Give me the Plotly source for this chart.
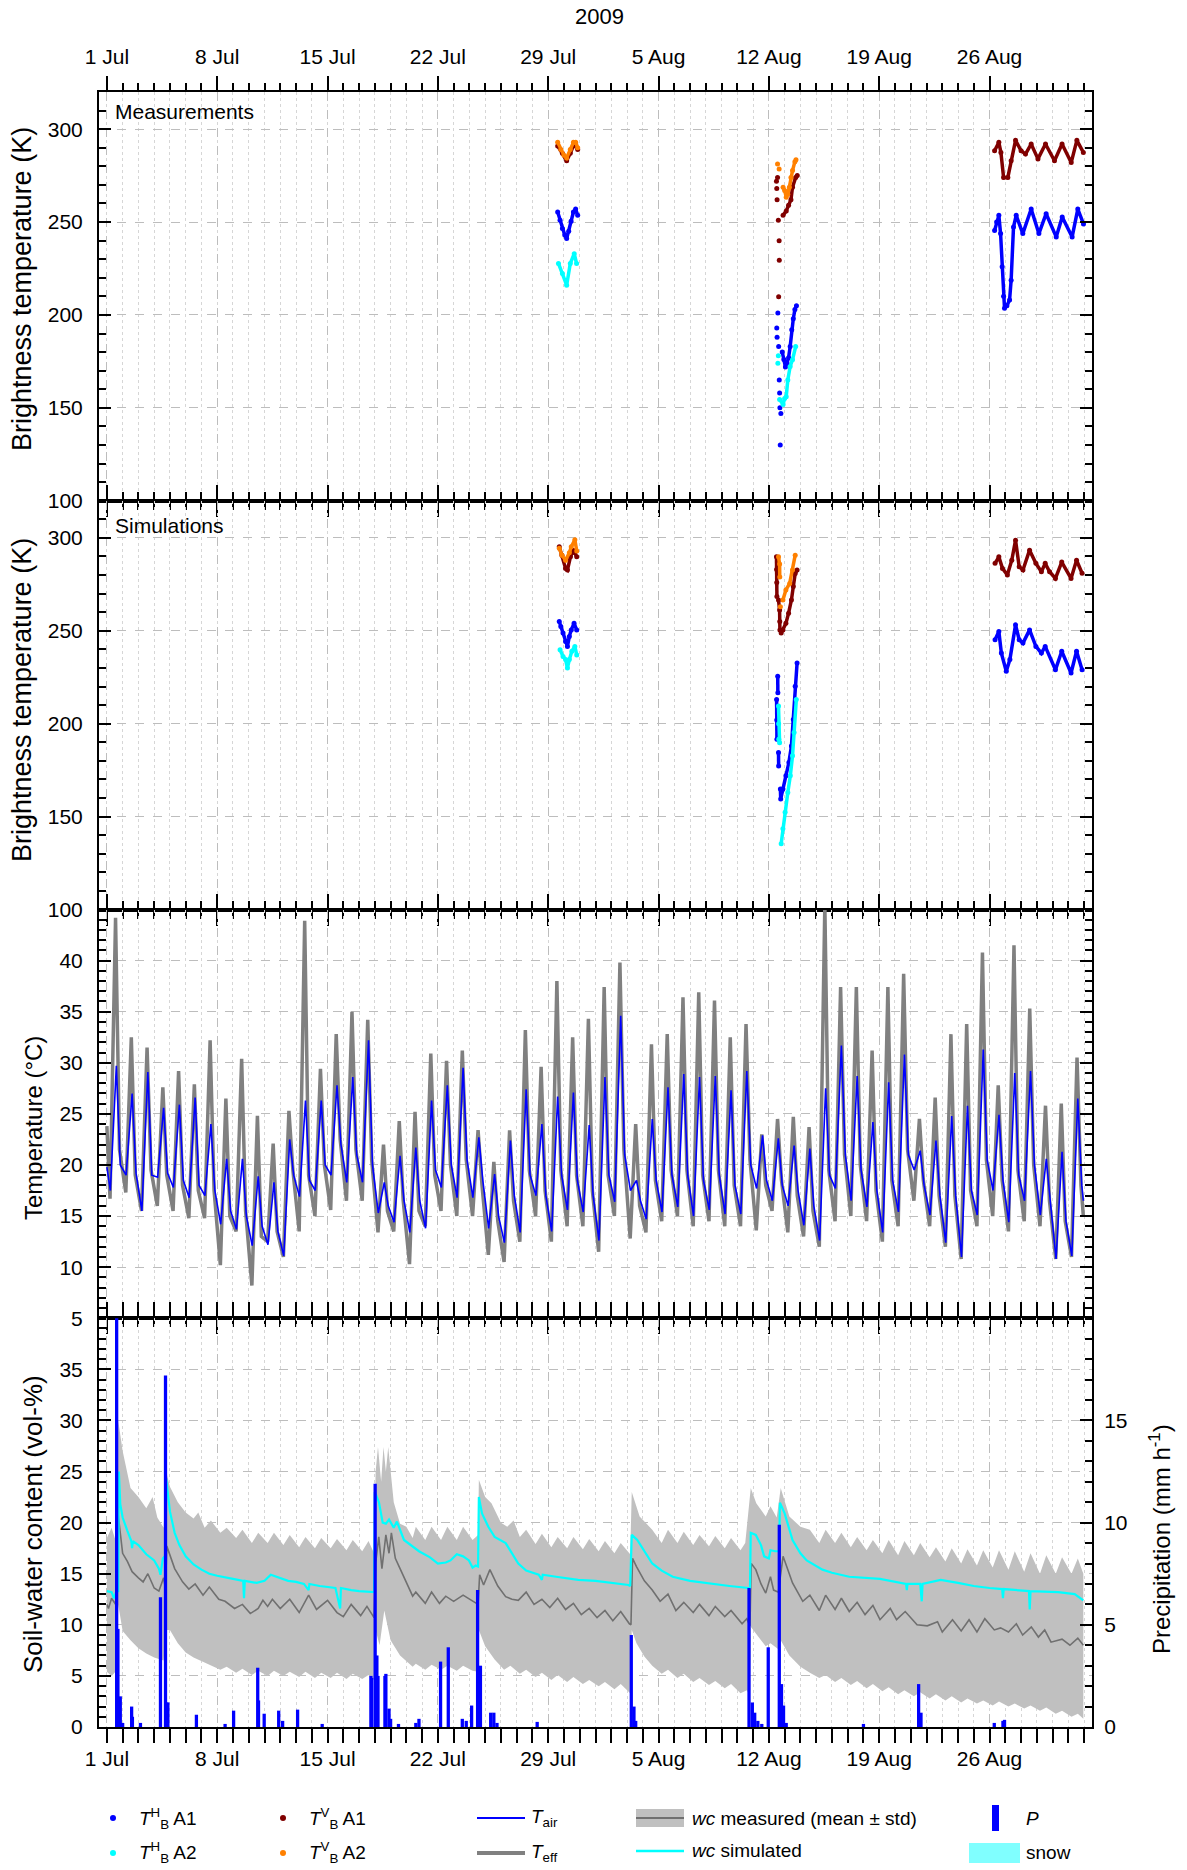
import pandas as pd
import plotly.graph_objects as go

FONT = "Liberation Sans, Arial, sans-serif"
BASE = pd.Timestamp("2009-07-01")

# ---------------- data (days since 1 Jul 2009 00:00) ----------------
# Brightness temperature, measurements
tbh_a1_meas_day = [28.6, 28.75, 28.9, 29.05, 29.17, 29.3, 29.45, 29.6, 29.74, 29.87, None,
                   42.5, None, 42.52, None, 42.57, None, 42.62, None, 42.66, None, 42.68, None, 42.7, None, 42.72, None, 42.76, None,
                   42.85, 42.95, 43.05, 43.15, 43.25, 43.35, 43.45, 43.55, 43.65, 43.75, None,
                   56.32, 56.45, 56.59, 56.7, 56.8, 56.89, 56.95, 57.1, 57.27, 57.37, 57.52, 57.69, 58.11, 58.64, 59.13, 59.59,
                   60.23, 60.61, 61.24, 61.6, 61.96]
tbh_a1_meas_val = [255.4, 251, 246.5, 243, 241.1, 245, 250.5, 255.4, 257, 253.6, None,
                   193, None, 188, None, 201, None, 183, None, 165, None, 158, None, 150, None, 130, None, 147, None,
                   180, 176, 172, 174, 177, 183, 192, 198, 203, 205, None,
                   245.5, 250, 253.6, 243.8, 226, 210, 203.6, 205, 208, 218.7, 247.3, 253.6, 243.8, 257, 243.8, 254.5,
                   242, 252.7, 242, 257, 249]

tbh_a2_meas_day = [28.65, 28.9, 29.17, 29.4, 29.65, 29.8, None,
                   42.57, None, 42.6, None, 42.68, 42.9, 43.0, 43.1, 43.2, 43.35, 43.5, 43.7]
tbh_a2_meas_val = [227.7, 222.3, 216, 227.7, 233, 227.7, None,
                   174, None, 178, None, 154.5, 151.8, 155, 156, 165, 172.3, 175.9, 183]

tbv_a1_meas_day = [28.6, 28.9, 29.17, 29.4, 29.6, 29.74, 29.87, None,
                   42.48, None, 42.5, None, 42.52, None, 42.55, None, 42.6, None, 42.65, None, 42.66, None, 42.62, None,
                   42.9, 43.1, 43.25, 43.4, 43.5, 43.7, 43.8, None,
                   56.32, 56.59, 56.72, 56.89, 57.16, 57.37, 57.65, 58.0, 58.28, 58.64, 59.07, 59.55, 60.12, 60.6, 61.18, 61.54, 61.95]
tbv_a1_meas_val = [291, 287, 283, 287, 291, 292, 289, None,
                   272, None, 268, None, 262, None, 274, None, 251, None, 240, None, 229.5, None, 209.8, None,
                   253.6, 256, 259, 262, 268.8, 274, 275, None,
                   288.4, 292.9, 287.5, 274, 274, 283, 294, 288.4, 286.6, 292, 284, 292, 283, 292, 282, 294, 287.5]

tbv_a2_meas_day = [28.6, 28.8, 29.0, 29.17, 29.4, 29.6, 29.74, 29.87, None,
                   42.55, None, 42.65, None,
                   42.9, 43.0, 43.1, 43.2, 43.3, 43.4, 43.5, 43.65, 43.72]
tbv_a2_meas_val = [292.9, 289, 286, 284.5, 289, 292.9, 293, 290, None,
                   281.3, None, 278.5, None,
                   268.8, 267, 263.4, 265, 268.8, 274, 277.7, 282.5, 283.5]

# Brightness temperature, simulations
tbh_a1_sim_day = [28.7, 28.8, 28.94, 29.1, 29.22, 29.34, 29.46, 29.64, 29.81, None,
                  42.56, 42.57, None, 42.49, 42.5, 42.51, None, 42.61, 42.62, None,
                  42.73, 42.75, 42.89, 43.08, 43.27, 43.43, 43.55, 43.67, 43.79, None,
                  56.35, 56.59, 56.75, 57.06, 57.29, 57.65, 57.88, 58.12, 58.54, 58.94, 59.29, 59.53, 60.18, 60.58, 61.17, 61.52, 61.87]
tbh_a1_sim_val = [255, 252.3, 248.8, 244.3, 241.6, 247, 250.5, 254, 250.5, None,
                  225.5, 216.6, None, 213, 202, 191.6, None, 184.5, 177.3, None,
                  164.8, 159.5, 164.8, 172, 179.1, 188, 202.3, 220.2, 232.7, None,
                  245.2, 249.6, 238, 228.2, 234.5, 253.2, 245.2, 243.4, 250.5, 241.6, 238, 241.6, 229, 239, 227.3, 239, 229]

tbh_a2_sim_day = [28.75, 28.94, 29.1, 29.22, 29.34, 29.5, 29.69, 29.81, None,
                  42.61, 42.62, 42.63, 42.68, None,
                  42.78, 42.89, 43.03, 43.2, 43.36, 43.5, 43.6, 43.74]
tbh_a2_sim_val = [239.8, 236.2, 234.5, 230, 234.5, 239, 241.6, 237, None,
                  209.5, 200, 191.6, 189.8, None,
                  135.4, 143.4, 152.3, 163, 172, 182.7, 195.2, 213]

tbv_a1_sim_day = [28.7, 28.87, 29.1, 29.22, 29.41, 29.57, 29.69, 29.81, None,
                  42.48, 42.49, 42.5, 42.51, None,
                  42.61, 42.68, 42.69, 42.7, 42.78, 42.89, 43.08, 43.25, 43.43, 43.55, 43.67, 43.79, None,
                  56.35, 56.59, 56.82, 57.13, 57.41, 57.65, 57.88, 58.12, 58.54, 58.94, 59.29, 59.53, 59.81, 60.18, 60.58, 61.17, 61.52, 61.87]
tbv_a1_sim_val = [295.2, 290.7, 283.6, 282.7, 289.8, 293.4, 292, 289.8, None,
                  289.8, 283, 276, 268.4, None,
                  266.6, 261.2, 255, 250.5, 248.8, 250.5, 254, 259.5, 266.6, 273.8, 280.9, 282.7, None,
                  286.3, 289.8, 283.6, 280, 288, 298.8, 284.5, 282.7, 293.4, 286.3, 281.8, 286.3, 281.8, 278.2, 287, 278.2, 288, 281]

tbv_a2_sim_day = [28.7, 28.87, 29.1, 29.34, 29.46, 29.69, 29.81, None,
                  42.61, 42.68, 42.69, None, 42.73, None,
                  42.89, 43.08, 43.32, 43.5, 43.67]
tbv_a2_sim_val = [294.5, 290.7, 288, 292, 295.2, 299, 293, None,
                  289.8, 286, 279, None, 263, None,
                  266.6, 272, 275.5, 282.7, 290.7]

# Temperatures: daily early-morning minimum, afternoon maximum and evening value, deg C
tair_first, tair_last = 19.8, 16.5
tair_min = [17.5, 19.0, 15.5, 18.8, 17.8, 16.8, 17.0, 14.2, 13.7, 12.1, 12.2, 11.1, 16.9, 17.5, 19.0, 18.3,
            18.3, 15.3, 14.4, 13.4, 13.8, 17.8, 16.8, 16.8, 13.8, 12.4, 13.4, 17.0, 13.5, 15.6, 15.4, 12.6,
            16.4, 17.5, 14.7, 15.4, 15.9, 15.0, 15.6, 15.2, 15.2, 17.7, 16.5, 16.0, 14.1, 12.6, 17.7, 16.5,
            15.9, 13.4, 15.4, 19.5, 15.1, 12.4, 11.0, 15.1, 17.5, 14.4, 16.5, 15.1, 10.8, 11.1]
tair_max = [29.7, 27.0, 29.1, 25.6, 25.9, 26.6, 24.0, 20.6, 20.6, 18.9, 18.3, 22.5, 26.3, 26.3, 27.8, 28.6,
            32.2, 18.3, 20.9, 21.7, 26.3, 27.8, 29.5, 22.7, 19.1, 22.4, 27.4, 24.0, 26.7, 27.1, 23.9, 28.6,
            34.6, 18.5, 24.5, 27.6, 28.9, 28.6, 28.7, 27.3, 29.2, 22.9, 22.6, 21.9, 21.6, 27.5, 31.7, 28.7,
            24.2, 28.1, 30.8, 21.4, 22.4, 24.8, 25.8, 31.3, 24.9, 29.0, 29.2, 20.6, 21.3, 26.5]
tair_eve = [20.0, 19.2, 19.0, 19.2, 18.5, 18.0, 17.5, 15.5, 15.0, 14.0,
            13.5, 19.0, 18.5, 20.0, 22.0, 21.0, 20.0, 16.0, 16.5, 16.5,
            19.5, 20.0, 20.5, 18.5, 15.0, 17.0, 19.0, 17.0, 19.0, 18.5,
            17.0, 19.0, 21.0, 16.5, 18.5, 19.0, 19.0, 18.5, 19.0, 18.0,
            20.0, 18.5, 18.0, 17.5, 16.0, 19.0, 21.0, 19.5, 17.5, 18.5,
            21.0, 18.0, 17.0, 17.0, 17.5, 20.5, 18.5, 19.0, 20.0, 16.5,
            14.5, 18.0]
teff_first, teff_last = 23.8, 15.0
teff_min = [16.7, 17.3, 15.5, 16.0, 15.5, 14.8, 14.8, 10.2, 13.5, 8.2, 12.5, 11.0, 13.5, 15.0, 15.6, 16.5,
            16.5, 13.4, 13.5, 10.3, 14.0, 15.5, 15.0, 15.0, 11.2, 10.5, 12.5, 15.0, 12.5, 14.0, 14.0, 11.5,
            15.0, 12.8, 13.4, 14.5, 15.0, 14.0, 14.5, 14.0, 14.0, 13.6, 15.5, 13.4, 13.0, 12.0, 14.5, 15.0,
            14.5, 12.5, 14.0, 16.5, 14.0, 12.0, 10.8, 14.0, 15.0, 13.5, 14.5, 14.0, 10.8, 11.0]
teff_max = [44.2, 32.5, 31.5, 27.6, 29.2, 27.9, 32.2, 26.5, 30.4, 24.8, 22.1, 25.3, 43.9, 29.4, 32.8, 35.0,
            34.2, 22.0, 24.3, 25.2, 30.9, 30.2, 31.2, 23.4, 20.3, 23.4, 33.2, 29.6, 38.0, 32.5, 34.3, 37.4,
            39.8, 24.0, 31.8, 32.8, 36.4, 36.9, 36.1, 32.5, 33.8, 23.0, 24.5, 24.7, 23.7, 45.5, 37.4, 37.4,
            31.2, 37.4, 38.7, 24.5, 26.6, 32.8, 33.8, 40.8, 27.8, 41.5, 35.3, 25.8, 26.0, 30.5]
teff_eve = [21.5, 19.0, 19.5, 19.0, 18.0, 17.5, 17.5, 15.0, 15.5, 13.0,
            13.5, 19.5, 19.0, 20.0, 22.5, 21.5, 20.5, 15.5, 16.5, 15.5,
            19.0, 20.0, 20.5, 18.0, 14.5, 16.5, 19.5, 17.5, 19.5, 19.0,
            17.5, 19.0, 21.5, 16.0, 18.5, 19.5, 19.5, 19.0, 19.5, 18.0,
            20.5, 18.0, 18.5, 17.0, 15.5, 19.5, 21.0, 20.0, 17.5, 18.5,
            21.5, 18.5, 17.0, 17.0, 17.5, 20.5, 18.5, 19.5, 20.0, 16.5,
            14.5, 18.0]

# Soil-water content (vol-%)
wc_mean_day = [0.0, 0.1, 0.3, 0.55, 0.7, 0.8, 1.0, 1.3, 1.6, 2.0, 2.3, 2.6, 3.0, 3.3, 3.6, 3.72, 3.8, 4.3, 4.8, 5.2,
               5.6, 6.1, 6.5, 7.1, 7.5, 8.1, 8.6, 9.1, 9.6, 9.9, 10.2, 10.5, 11.0, 11.6, 12.2, 12.8, 13.3, 14.0, 14.6,
               15.0, 15.5, 16.1, 16.5, 16.95, 17.05, 17.25, 17.45, 17.7, 17.9, 18.05, 18.3, 18.6, 18.85, 19.4, 19.6,
               20.2, 20.6, 21.1, 21.5, 22.0, 22.6, 23.0, 23.4, 23.55, 23.65, 23.9, 24.3, 24.8, 25.3, 25.7, 26.1, 26.6,
               27.1, 27.6, 28.1, 28.6, 29.1, 29.6, 30.1, 30.6, 31.1, 31.6, 32.1, 32.6, 33.15, 33.25, 33.35, 33.6,
               34.1, 34.6, 35.1, 35.6, 36.1, 36.6, 37.2, 37.6, 38.2, 38.6, 39.2, 39.6, 40.3, 40.6, 40.8, 40.88,
               41.17, 41.5, 41.8, 42.1, 42.3, 42.6, 42.9, 43.5, 44.15, 44.6, 45.2, 45.6, 46.2, 46.6, 47.1, 47.6,
               48.1, 48.6, 49.05, 49.7, 50.1, 50.65, 51.4, 52.05, 52.7, 53.0, 53.65, 54.2, 54.7, 55.2, 55.7, 56.3,
               56.7, 57.2, 57.7, 58.1, 58.65, 59.1, 59.5, 59.9, 60.6, 61.1, 61.6, 61.95]
wc_mean_val = [12.0, 11.6, 12.6, 12.0, 21.0, 19.5, 17.0, 16.2, 15.2, 14.6, 14.2, 15.0, 13.6, 13.3, 14.6, 13.5, 17.7,
               15.5, 14.2, 13.5, 14.0, 12.9, 13.7, 12.5, 12.3, 11.6, 12.0, 11.1, 11.6, 12.4, 11.8, 12.5, 11.6, 12.5,
               11.2, 12.9, 11.5, 12.4, 11.2, 10.8, 12.0, 10.9, 11.8, 10.7, 16.0, 18.6, 15.5, 18.8, 17.0, 19.0, 16.5,
               15.5, 14.7, 12.8, 13.2, 12.1, 13.2, 12.1, 12.8, 12.3, 12.9, 12.5, 12.1, 12.0, 14.9, 13.9, 15.4, 13.8,
               12.75, 12.5, 12.4, 13.2, 12.0, 12.5, 11.7, 12.6, 11.5, 12.1, 11.0, 11.6, 10.7, 11.4, 10.4, 11.3,
               10.1, 10.0, 16.5, 15.7, 14.3, 13.4, 12.3, 13.0, 11.4, 12.2, 11.2, 12.0, 10.9, 11.8, 10.8, 11.4,
               10.1, 10.6, 9.9, 16.0, 15.4, 14.0, 13.1, 14.7, 13.4, 13.2, 16.7, 14.1, 12.3, 12.9, 11.4, 12.9,
               11.5, 12.6, 11.3, 12.2, 11.0, 11.9, 10.5, 11.6, 10.5, 11.3, 10.0, 9.9, 10.3, 9.3, 10.5, 9.4, 10.5,
               9.3, 10.6, 9.5, 9.7, 9.3, 10.1, 9.0, 9.8, 8.8, 9.5, 8.3, 8.6, 8.0, 8.7, 8.0]

wc_sim_day = [0.0, 0.3, 0.45, 0.6, 0.72, 0.76, 0.85, 1.0, 1.3, 1.55, 1.6, 1.65, 2.0, 2.5, 3.0, 3.3, 3.4, 3.55,
              3.72, 3.76, 4.0, 4.3, 4.6, 5.0, 5.5, 6.0, 6.5, 7.0, 8.0, 8.65, 8.7, 8.75, 9.5, 10.0, 10.4, 11.0,
              11.5, 12.0, 12.5, 12.8, 12.85, 13.5, 14.5, 14.8, 14.85, 15.5, 16.0, 16.95, 17.0, 17.26, 17.5,
              17.7, 17.9, 18.2, 18.4, 18.85, 19.8, 20.5, 21.0, 21.5, 21.8, 22.2, 22.6, 22.97, 23.2, 23.4, 23.55,
              23.6, 23.8, 24.2, 24.6, 25.3, 25.7, 26.1, 26.6, 27.4, 27.6, 27.65, 28.5, 29.9, 31.0, 33.1, 33.2,
              33.3, 33.65, 34.1, 34.6, 35.2, 35.9, 37.0, 38.4, 39.5, 40.7, 40.8, 40.85, 41.17, 41.5, 41.7, 42.0,
              42.1, 42.4, 42.65, 42.7, 43.0, 43.5, 44.0, 44.4, 45.0, 45.4, 46.0, 47.1, 49.05, 50.7, 50.75, 50.8,
              51.6, 51.7, 51.75, 52.9, 54.0, 55.0, 56.0, 56.8, 56.85, 56.9, 58.5, 58.55, 58.6, 60.35, 61.4, 61.95]
wc_sim_val = [13.3, 13.2, 12.6, 13.3, 13.3, 25.0, 21.8, 20.5, 19.2, 18.2, 17.5, 18.2, 17.8, 16.9, 16.3, 15.5, 14.9,
              16.5, 16.8, 24.3, 21.1, 19.0, 17.8, 16.7, 15.9, 15.4, 15.0, 14.8, 14.5, 14.3, 12.6, 14.3, 14.1, 14.3,
              14.9, 14.6, 14.3, 14.2, 14.0, 13.4, 14.0, 13.8, 13.6, 11.6, 13.6, 13.4, 13.3, 13.2, 23.0, 22.0, 20.0,
              19.9, 20.3, 19.5, 20.1, 18.3, 17.2, 16.6, 16.0, 16.1, 16.3, 16.9, 16.7, 16.3, 15.6, 15.8, 15.7,
              22.5, 20.9, 19.6, 18.6, 18.0, 17.0, 16.0, 15.3, 14.9, 14.4, 14.9, 14.7, 14.4, 14.3, 13.9, 13.8,
              18.8, 18.3, 17.2, 16.0, 15.3, 14.7, 14.3, 14.0, 13.8, 13.6, 13.5, 19.0, 18.8, 17.8, 16.7, 16.5,
              17.3, 17.2, 17.2, 21.95, 20.9, 18.3, 17.0, 16.3, 15.8, 15.4, 15.1, 14.7, 14.5, 14.0, 13.4, 14.0,
              14.0, 12.3, 14.0, 14.4, 14.1, 13.8, 13.6, 13.5, 12.6, 13.5, 13.3, 11.5, 13.3, 13.2, 13.0, 12.4]

wc_up_day = [0.0, 0.3, 0.6, 0.72, 1.0, 1.5, 2.0, 2.5, 2.9, 3.2, 3.6, 3.76, 4.0, 4.5, 5.0, 5.5, 5.8, 6.2, 6.6, 7.2,
             7.6, 8.2, 8.6, 9.2, 9.6, 10.2, 10.6, 11.2, 11.6, 12.2, 12.6, 13.2, 13.6, 14.2, 14.6, 15.2, 15.6, 16.2,
             16.6, 16.95, 17.05, 17.2, 17.4, 17.55, 17.7, 17.85, 18.2, 18.6, 19.0, 19.4, 19.6, 20.2, 20.6, 21.2,
             21.6, 22.2, 22.6, 23.2, 23.55, 23.6, 24.0, 24.4, 25.0, 25.4, 25.8, 26.2, 26.6, 27.2, 27.6, 28.2, 28.6,
             29.2, 29.6, 30.2, 30.6, 31.2, 31.6, 32.2, 32.6, 33.2, 33.3, 33.8, 34.3, 34.6, 35.2, 35.6, 36.2, 36.6,
             37.2, 37.6, 38.2, 38.6, 39.2, 39.6, 40.2, 40.5, 40.85, 41.2, 41.8, 42.1, 42.5, 42.75, 43.3, 44.0,
             44.6, 45.2, 45.6, 46.2, 46.6, 47.2, 47.6, 48.2, 48.6, 49.2, 49.6, 50.2, 50.6, 51.2, 51.6, 52.2, 52.6,
             53.2, 53.6, 54.2, 54.6, 55.2, 55.6, 56.2, 56.6, 57.2, 57.6, 58.2, 58.6, 59.2, 59.6, 60.2, 60.6, 61.2,
             61.6, 61.95]
wc_up_val = [18.5, 19.5, 18.0, 30.0, 27.0, 23.4, 22.5, 21.4, 22.5, 20.5, 19.5, 25.0, 23.5, 22.0, 21.0, 20.4, 21.0,
             19.5, 20.2, 19.0, 19.5, 18.5, 19.3, 18.0, 19.0, 18.0, 19.0, 17.8, 18.8, 17.6, 18.6, 17.5, 18.5, 17.5,
             18.4, 17.3, 18.3, 17.2, 18.2, 17.0, 25.0, 27.4, 24.0, 27.4, 25.0, 27.4, 22.0, 19.9, 19.6, 18.5, 19.6,
             18.3, 19.6, 18.3, 19.6, 18.3, 19.6, 18.3, 18.8, 24.2, 22.5, 21.9, 20.0, 19.6, 20.2, 18.6, 19.3, 17.9,
             18.9, 17.6, 18.6, 17.5, 18.6, 17.4, 18.4, 17.2, 18.2, 17.0, 18.0, 16.9, 23.0, 20.6, 19.8, 19.3, 18.0,
             19.3, 18.0, 19.1, 17.8, 18.8, 17.7, 18.7, 17.5, 18.5, 17.3, 18.0, 23.4, 21.9, 20.6, 21.6, 20.5, 23.4,
             20.6, 19.6, 19.3, 18.0, 19.3, 18.0, 19.0, 17.6, 18.6, 17.3, 18.3, 17.0, 18.3, 16.8, 18.2, 16.8, 18.0,
             16.6, 17.6, 16.2, 17.5, 16.0, 17.4, 15.8, 17.3, 15.6, 17.3, 15.4, 17.2, 15.2, 17.0, 15.0, 16.8, 15.0,
             16.6, 15.0, 16.5, 15.0]

wc_lo_day = [0.0, 0.3, 0.6, 0.72, 1.0, 1.5, 2.0, 2.5, 3.0, 3.6, 3.76, 4.0, 4.5, 5.0, 5.5, 6.0, 6.6, 7.2, 7.6, 8.2,
             8.6, 9.2, 9.6, 10.2, 10.6, 11.2, 11.6, 12.2, 12.6, 13.2, 13.6, 14.2, 14.6, 15.2, 15.6, 16.2, 16.6,
             16.95, 17.05, 17.3, 17.6, 18.0, 18.6, 19.4, 19.6, 20.2, 20.6, 21.2, 21.6, 22.2, 22.6, 23.2, 23.55,
             23.6, 24.0, 24.6, 25.2, 25.6, 26.2, 26.6, 27.2, 27.6, 28.2, 28.6, 29.2, 29.6, 30.2, 30.6, 31.2, 31.6,
             32.2, 32.6, 33.2, 33.3, 33.6, 34.1, 34.6, 35.2, 35.6, 36.2, 36.6, 37.2, 37.6, 38.2, 38.6, 39.2, 39.6,
             40.2, 40.6, 40.8, 40.85, 41.5, 41.8, 42.1, 42.6, 42.75, 43.3, 44.0, 44.6, 45.2, 45.6, 46.2, 46.6,
             47.2, 47.6, 48.2, 48.6, 49.2, 49.6, 50.2, 50.6, 51.2, 51.6, 52.2, 52.6, 53.2, 53.6, 54.2, 54.6, 55.2,
             55.6, 56.2, 56.6, 57.2, 57.6, 58.2, 58.6, 59.2, 59.6, 60.2, 60.6, 61.2, 61.6, 61.95]
wc_lo_val = [5.4, 5.0, 5.5, 12.0, 9.4, 8.5, 7.7, 7.2, 6.8, 6.5, 9.5, 9.5, 8.2, 7.3, 6.8, 6.4, 6.0, 5.6, 5.9, 5.3,
             5.7, 5.1, 5.5, 5.0, 5.5, 5.0, 5.4, 4.9, 5.4, 4.8, 5.3, 4.8, 5.3, 4.7, 5.2, 4.7, 5.1, 4.6, 9.5, 8.0,
             11.4, 8.5, 7.0, 5.9, 6.2, 5.6, 6.1, 5.6, 6.0, 5.5, 6.0, 5.5, 5.4, 9.5, 7.9, 6.6, 5.6, 6.0, 5.2, 5.6,
             4.9, 5.3, 4.6, 5.1, 4.4, 4.9, 4.2, 4.6, 4.0, 4.4, 3.7, 4.2, 3.3, 9.5, 8.2, 6.9, 6.0, 5.2, 5.6, 4.8,
             5.2, 4.4, 4.8, 4.1, 4.5, 3.8, 4.2, 3.3, 3.6, 3.0, 9.8, 8.5, 7.9, 8.2, 7.6, 8.5, 7.0, 5.9, 5.3, 4.8,
             5.1, 4.4, 4.8, 4.1, 4.5, 3.8, 4.2, 3.5, 3.9, 3.2, 3.6, 3.0, 3.4, 2.8, 3.2, 2.6, 3.0, 2.4, 2.8, 2.3,
             2.6, 2.1, 2.5, 2.0, 2.3, 1.8, 2.1, 1.6, 1.9, 1.3, 1.6, 1.0, 1.3, 0.8]

# Precipitation (mm/h)
precip_day = [0.62, 0.7, 0.85, 1.0, 1.57, 1.62, 2.13, 3.4, 3.72, 3.8, 3.87, 5.68, 7.5, 8.04, 9.57, 9.62, 9.98,
              10.9, 11.15, 12.1, 13.66, 16.75, 16.8, 17.02, 17.13, 17.2, 17.64, 17.7, 17.9, 18.0, 18.5, 19.6,
              19.8, 21.17, 21.66, 22.55, 22.8, 23.14, 23.52, 23.7, 24.35, 24.55, 24.75, 27.3, 33.27, 33.44,
              33.55, 40.74, 40.95, 41.1, 41.3, 41.55, 41.96, 42.66, 42.8, 42.93, 43.1, 48.0, 51.5, 51.65,
              56.3, 56.85, 56.95]
precip_val = [24.0, 4.8, 1.5, 0.2, 1.0, 0.5, 0.2, 6.35, 17.2, 1.2, 1.2, 0.6, 0.15, 0.8, 2.9, 1.3, 0.65,
              0.8, 0.3, 0.85, 0.15, 2.5, 2.4, 11.9, 3.5, 2.5, 2.5, 2.6, 0.9, 0.4, 0.15, 0.2,
              0.4, 3.2, 3.9, 0.4, 0.3, 1.05, 6.7, 3.0, 0.7, 0.7, 0.2, 0.25, 4.5, 1.0,
              0.3, 6.8, 1.2, 0.7, 0.3, 0.15, 3.9, 9.9, 2.1, 1.05, 0.2, 0.15, 2.1, 0.7,
              0.2, 0.3, 0.35]

week_labels = ["1 Jul", "8 Jul", "15 Jul", "22 Jul", "29 Jul", "5 Aug", "12 Aug", "19 Aug", "26 Aug"]

# ---------------- helpers ----------------
def dates(days):
    return [None if d is None else BASE + pd.Timedelta(days=d) for d in days]


def daily_series(first, last, mins, maxs, eves, t_min, t_max, t_eve):
    xs, ys = [0.0], [first]
    for i, (lo, hi, ev) in enumerate(zip(mins, maxs, eves)):
        xs += [i + t_min, i + t_max, i + t_eve]
        ys += [lo, hi, ev]
    xs.append(61.95)
    ys.append(last)
    return dates(xs), ys


W, H = 1187, 1870
L, R, T, B = 99, 95, 92, 143
PW, PH = W - L - R, H - T - B


def px(x):
    return (x - L) / PW


def py(y):
    return (H - B - y) / PH


BLUE, CYAN, DRED, ORANGE = "#0000ff", "#00ffff", "#800000", "#ff8000"

fig = go.Figure()

# ---------------- brightness temperature panels ----------------
tb_sets = [
    ("x", "y", [(tbh_a1_meas_day, tbh_a1_meas_val, BLUE), (tbh_a2_meas_day, tbh_a2_meas_val, CYAN),
                (tbv_a1_meas_day, tbv_a1_meas_val, DRED), (tbv_a2_meas_day, tbv_a2_meas_val, ORANGE)]),
    ("x2", "y2", [(tbh_a1_sim_day, tbh_a1_sim_val, BLUE), (tbh_a2_sim_day, tbh_a2_sim_val, CYAN),
                  (tbv_a1_sim_day, tbv_a1_sim_val, DRED), (tbv_a2_sim_day, tbv_a2_sim_val, ORANGE)]),
]
for xa, ya, series in tb_sets:
    for d, v, c in series:
        fig.add_trace(go.Scatter(x=dates(d), y=v, mode="lines+markers", xaxis=xa, yaxis=ya,
                                 line=dict(color=c, width=3.5), marker=dict(color=c, size=5),
                                 connectgaps=False, showlegend=False))

# ---------------- temperature panel ----------------
tx, ty = daily_series(teff_first, teff_last, teff_min, teff_max, teff_eve, 0.2, 0.55, 0.8)
fig.add_trace(go.Scatter(x=tx, y=ty, mode="lines", xaxis="x3", yaxis="y3",
                         line=dict(color="#808080", width=3.5), showlegend=False))
ax, ay = daily_series(tair_first, tair_last, tair_min, tair_max, tair_eve, 0.22, 0.6, 0.85)
fig.add_trace(go.Scatter(x=ax, y=ay, mode="lines", xaxis="x3", yaxis="y3",
                         line=dict(color=BLUE, width=1.6), showlegend=False))

# ---------------- soil water panel ----------------
band_x = dates(wc_up_day) + dates(wc_lo_day[::-1])
band_y = wc_up_val + wc_lo_val[::-1]
fig.add_trace(go.Scatter(x=band_x, y=band_y, fill="toself", fillcolor="#c0c0c0", mode="lines",
                         line=dict(width=0, color="#c0c0c0"), xaxis="x4", yaxis="y4", showlegend=False))
fig.add_trace(go.Scatter(x=dates(wc_mean_day), y=wc_mean_val, mode="lines", xaxis="x4", yaxis="y4",
                         line=dict(color="#707070", width=1.6), showlegend=False))
fig.add_trace(go.Scatter(x=dates(wc_sim_day), y=wc_sim_val, mode="lines", xaxis="x4", yaxis="y4",
                         line=dict(color=CYAN, width=2.2), showlegend=False))
fig.add_trace(go.Bar(x=dates(precip_day), y=precip_val, width=5 * 3600 * 1000, xaxis="x4", yaxis="y5",
                     marker=dict(color=BLUE, line=dict(width=0)), showlegend=False))

# ---------------- axes ----------------
tick_font = dict(family=FONT, size=21, color="black")
xrange = ["2009-06-30 12:00", "2009-09-01 12:00"]
xcommon = dict(type="date", range=xrange, tickmode="array",
               tickvals=dates([7 * i for i in range(9)]), ticktext=week_labels,
               ticks="outside", ticklen=14, tickwidth=2, tickcolor="black",
               showline=True, linewidth=2, linecolor="black", mirror="allticks",
               showgrid=True, gridcolor="#bdbdbd", griddash="dash", gridwidth=1.3,
               minor=dict(tickmode="linear", tick0="2009-07-01", dtick=86400000, ticks="outside",
                          ticklen=7, tickwidth=1.5, tickcolor="black", showgrid=True,
                          gridcolor="#d6d6d6", griddash="dot", gridwidth=1),
               tickfont=tick_font, zeroline=False)
ycommon = dict(ticks="inside", ticklen=12, tickwidth=2, tickcolor="black",
               showline=True, linewidth=2, linecolor="black",
               showgrid=True, gridcolor="#bdbdbd", griddash="dash", gridwidth=1.3,
               tickfont=tick_font, zeroline=False, ticklabelstandoff=10)
yminor_tb = dict(tickmode="linear", tick0=100, dtick=10, ticks="inside", ticklen=7,
                 tickwidth=1.5, tickcolor="black", showgrid=False)

fig.update_layout(
    xaxis=dict(xcommon, anchor="y", side="top", showticklabels=True, ticklabelstandoff=4),
    xaxis2=dict(xcommon, anchor="y2", matches="x", showticklabels=False),
    xaxis3=dict(xcommon, anchor="y3", matches="x", showticklabels=False),
    xaxis4=dict(xcommon, anchor="y4", matches="x", showticklabels=True, ticklabelstandoff=-2),
    yaxis=dict(ycommon, domain=[0.75, 1.0], range=[100, 320], tickmode="array",
               tickvals=[100, 150, 200, 250, 300], anchor="x", mirror="allticks", minor=yminor_tb),
    yaxis2=dict(ycommon, domain=[0.5, 0.75], range=[100, 320], tickmode="array",
                tickvals=[100, 150, 200, 250, 300], anchor="x2", mirror="allticks", minor=yminor_tb),
    yaxis3=dict(ycommon, domain=[0.25, 0.5], range=[5, 45], tickmode="array",
                tickvals=[5, 10, 15, 20, 25, 30, 35, 40], anchor="x3", mirror="allticks",
                minor=dict(tickmode="linear", tick0=5, dtick=1, ticks="inside", ticklen=7,
                           tickwidth=1.5, tickcolor="black", showgrid=False)),
    yaxis4=dict(ycommon, domain=[0.0, 0.25], range=[0, 40], tickmode="array",
                tickvals=[0, 5, 10, 15, 20, 25, 30, 35], anchor="x4", mirror=False,
                minor=dict(tickmode="linear", tick0=0, dtick=1, ticks="inside", ticklen=7,
                           tickwidth=1.5, tickcolor="black", showgrid=False)),
    yaxis5=dict(overlaying="y4", side="right", anchor="x4", range=[0, 20], tickmode="array",
                tickvals=[0, 5, 10, 15], ticks="inside", ticklen=12, tickwidth=2, tickcolor="black",
                showline=True, linewidth=2, linecolor="black", showgrid=False, zeroline=False,
                tickfont=tick_font, ticklabelstandoff=6,
                minor=dict(tickmode="linear", tick0=0, dtick=1, ticks="inside", ticklen=7,
                           tickwidth=1.5, tickcolor="black", showgrid=False)),
    width=W, height=H, margin=dict(l=L, r=R, t=T, b=B, pad=0),
    paper_bgcolor="white", plot_bgcolor="white", showlegend=False, barmode="overlay",
    font=dict(family=FONT, color="black"),
)

# ---------------- text ----------------
ann = []


def text(x, y, s, size=21, angle=0, xanchor="center", yanchor="middle"):
    ann.append(dict(x=px(x), y=py(y), xref="paper", yref="paper", text=s, showarrow=False,
                    textangle=angle, xanchor=xanchor, yanchor=yanchor,
                    font=dict(family=FONT, size=size, color="black")))


text(599, 16, "2009", size=22)
text(113, 112, "Measurements", size=21, xanchor="left")
text(113, 525, "Simulations", size=21, xanchor="left")
text(22, 289, "Brightness temperature (K)", size=27, angle=-90)
text(22, 700, "Brightness temperature (K)", size=27, angle=-90)
text(33, 1128, "Temperature (°C)", size=24, angle=-90)
text(33, 1524, "Soil-water content (vol-%)", size=26, angle=-90)
text(1160, 1539, "Precipitation (mm h<sup>-1</sup>)", size=24, angle=-90)

# ---------------- legend (drawn) ----------------
shapes = []
r1, r2 = 1818, 1853


def dot(x, y, c):
    shapes.append(dict(type="circle", xref="paper", yref="paper", x0=px(x - 3), x1=px(x + 3),
                       y0=py(y + 3), y1=py(y - 3), fillcolor=c, line=dict(width=0)))


def hline(x0, x1, y, c, w):
    shapes.append(dict(type="line", xref="paper", yref="paper", x0=px(x0), x1=px(x1),
                       y0=py(y), y1=py(y), line=dict(color=c, width=w)))


def rect(x0, x1, y0, y1, c):
    shapes.append(dict(type="rect", xref="paper", yref="paper", x0=px(x0), x1=px(x1),
                       y0=py(y1), y1=py(y0), fillcolor=c, line=dict(width=0)))


dot(113, r1, BLUE)
dot(113, r2, CYAN)
dot(283, r1, DRED)
dot(283, r2, ORANGE)
hline(477, 525, r1, BLUE, 2)
hline(477, 525, r2, "#808080", 4)
rect(636, 684, r1 - 9, r1 + 9, "#c0c0c0")
hline(636, 684, r1, "#707070", 2)
hline(636, 684, r2 - 2, CYAN, 2.5)
rect(992, 999, r1 - 13, r1 + 13, BLUE)
rect(969, 1020, r2 - 10, r2 + 10, "#80ffff")

lf = 19
text(137, r1, "<i>T</i><sup>H</sup><sub>B</sub> A1", size=lf, xanchor="left")
text(137, r2, "<i>T</i><sup>H</sup><sub>B</sub> A2", size=lf, xanchor="left")
text(307, r1, "<i>T</i><sup>V</sup><sub>B</sub> A1", size=lf, xanchor="left")
text(307, r2, "<i>T</i><sup>V</sup><sub>B</sub> A2", size=lf, xanchor="left")
text(529, r1, "<i>T</i><sub>air</sub>", size=lf, xanchor="left")
text(529, r2, "<i>T</i><sub>eff</sub>", size=lf, xanchor="left")
text(690, r1, "<i>wc</i> measured (mean ± std)", size=lf, xanchor="left")
text(690, r2 - 2, "<i>wc</i> simulated", size=lf, xanchor="left")
text(1024, r1, "<i>P</i>", size=lf, xanchor="left")
text(1024, r2, "snow", size=lf, xanchor="left")

fig.update_layout(annotations=ann, shapes=shapes)
fig.write_html("out.html")
